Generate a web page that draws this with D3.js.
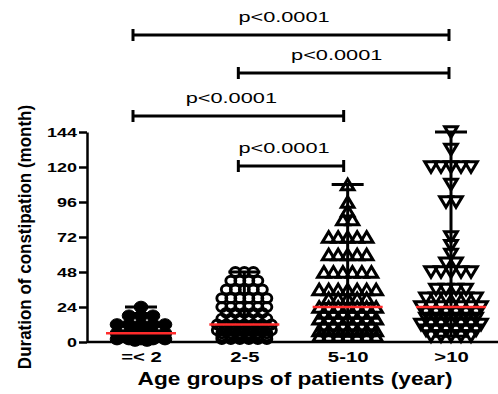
<!DOCTYPE html>
<html>
<head>
<meta charset="utf-8">
<script src="https://cdn.jsdelivr.net/npm/d3@7"></script>
<style>
  html, body { margin: 0; padding: 0; background: #fff; }
  svg { display: block; font-family: "Liberation Sans", Arial, sans-serif; }
</style>
</head>
<body>
<div id="chart"></div>
<script>
// Age groups of patients (year)
var groups = ["=< 2", "2-5", "5-10", ">10"];

// Duration of constipation (month) per patient
var under2 = [24, 18, 18, 18, 12, 12, 12, 12, 12, 9, 9,
  6, 6, 6, 6, 6, 4, 4, 4, 4, 2, 2, 2, 2, 2, 1, 1];
var from2to5 = [48, 48, 48, 42, 42, 42, 42, 36, 36, 36, 36, 36,
  30, 30, 30, 30, 30, 30, 24, 24, 24, 24, 24, 24, 20, 20, 20, 20, 20,
  16, 16, 16, 16, 16, 16, 12, 12, 12, 12, 12, 12, 12,
  10, 10, 10, 10, 10, 10, 8, 8, 8, 8, 8, 8, 8, 6, 6, 6, 6, 6, 6,
  4, 4, 4, 4, 4, 4, 2, 2, 2, 2, 2, 2];
var from5to10 = [108, 96, 90, 84, 84, 72, 72, 72, 72, 72, 60, 60, 60, 60, 60,
  48, 48, 48, 48, 48, 48, 36, 36, 36, 36, 36, 36, 36, 30, 30, 30, 30, 30,
  24, 24, 24, 24, 24, 24, 24, 20, 20, 20, 20, 20, 20, 16, 16, 16, 16, 16, 16, 16,
  12, 12, 12, 12, 12, 12, 8, 8, 8, 8, 8, 8, 8, 4, 4, 4, 4, 4, 4, 4];
var over10 = [144, 132, 120, 120, 120, 120, 120, 108, 96, 96, 72, 66, 60, 54, 54,
  48, 48, 48, 48, 48, 36, 36, 36, 36, 30, 30, 30, 30, 30, 30,
  24, 24, 24, 24, 24, 24, 24, 20, 20, 20, 20, 20, 20, 16, 16, 16, 16, 16, 16,
  12, 12, 12, 12, 12, 12, 12, 8, 8, 8, 8, 8, 8, 4, 4, 4, 4, 4];

var yTicks = [0, 24, 48, 72, 96, 120, 144];

// Multiple comparisons drawn above the columns
var compareFrom = ["=< 2", "2-5", "=< 2", "2-5"];
var compareTo = [">10", ">10", "5-10", "5-10"];
var compareLabels = ["p<0.0001", "p<0.0001", "p<0.0001", "p<0.0001"];

var width = 498, height = 394;
var axisX = 87;

var svg = d3.select("#chart").append("svg")
  .attr("width", width)
  .attr("height", height);

var xScale = d3.scalePoint().domain(groups).range([141, 451]);
var bracketX = d3.scalePoint().domain(groups).range([133, 449]);
var yScale = d3.scaleLinear().domain([0, 144]).range([342, 132]);

// marker look per column
var styles = [
  { shape: "dot", rx: 6.8, ry: 5.8, step: 12 },
  { shape: "ring", rx: 5, ry: 4.5, step: 9 },
  { shape: "up", w: 12.5, h: 10.5, step: 9.5 },
  { shape: "down", w: 12.5, h: 10.5, step: 10 }
];

function triPath(w, h, up) {
  var s = up ? 1 : -1;
  return "M0," + (-s * h / 2) + "L" + (w / 2) + "," + (s * h / 2) + "L" + (-w / 2) + "," + (s * h / 2) + "Z";
}

var columns = [under2, from2to5, from5to10, over10];

columns.forEach(function(values, gi) {
  var st = styles[gi];
  var cx = xScale(groups[gi]);
  // spread equal values sideways like a column scatter
  var pts = [];
  d3.groups(values, d => d).forEach(function(row) {
    var n = row[1].length;
    row[1].forEach(function(v, i) {
      pts.push({ v: v, dx: (i - (n - 1) / 2) * st.step });
    });
  });

  var g = svg.append("g").attr("class", "column");

  if (st.shape === "dot" || st.shape === "ring") {
    g.selectAll("ellipse").data(pts).enter().append("ellipse")
      .attr("cx", d => cx + d.dx)
      .attr("cy", d => yScale(d.v))
      .attr("rx", st.rx)
      .attr("ry", st.ry)
      .attr("fill", st.shape === "dot" ? "#000" : "none")
      .attr("stroke", "#000")
      .attr("stroke-width", st.shape === "dot" ? 1 : 2.9);
  } else {
    g.selectAll("path").data(pts).enter().append("path")
      .attr("transform", d => "translate(" + (cx + d.dx) + "," + yScale(d.v) + ")")
      .attr("d", triPath(st.w, st.h, st.shape === "up"))
      .attr("fill", "none")
      .attr("stroke", "#000")
      .attr("stroke-width", 3.1)
      .attr("stroke-linejoin", "miter");
  }

  // range bar (min to max) with caps
  var ext = d3.extent(values);
  g.append("line")
    .attr("x1", cx).attr("x2", cx)
    .attr("y1", yScale(ext[0])).attr("y2", yScale(ext[1]))
    .attr("stroke", "#000").attr("stroke-width", 3);
  ext.forEach(function(v) {
    g.append("line")
      .attr("x1", cx - 16).attr("x2", cx + 16)
      .attr("y1", yScale(v)).attr("y2", yScale(v))
      .attr("stroke", "#000").attr("stroke-width", 3);
  });

  // median
  g.append("line")
    .attr("x1", cx - 35).attr("x2", cx + 35)
    .attr("y1", yScale(d3.median(values))).attr("y2", yScale(d3.median(values)))
    .attr("stroke", "#ff2b2b").attr("stroke-width", 2.5);
});

// y axis
var yAxis = d3.axisLeft(yScale).tickValues(yTicks).tickSize(8).tickSizeOuter(0);
var gy = svg.append("g")
  .attr("transform", "translate(" + axisX + ",0)")
  .attr("font-size", null).attr("font-family", null)
  .call(yAxis);
gy.select(".domain").attr("stroke-width", 2.5);
gy.selectAll(".tick line").attr("stroke-width", 2.5);
gy.selectAll(".tick text")
  .attr("x", 0)
  .attr("transform", "translate(-10,0) scale(1.33,1)")
  .style("font-size", "13.5px")
  .style("font-weight", "bold");

// x axis line across the plot
svg.append("line")
  .attr("x1", axisX).attr("x2", width)
  .attr("y1", yScale(0)).attr("y2", yScale(0))
  .attr("stroke", "#000").attr("stroke-width", 2.5);

var xAxis = d3.axisBottom(xScale).tickSize(0);
var gx = svg.append("g")
  .attr("transform", "translate(0," + yScale(0) + ")")
  .attr("font-size", null).attr("font-family", null)
  .call(xAxis);
gx.select(".domain").remove();
gx.selectAll(".tick text")
  .attr("y", 0).attr("dy", 0)
  .attr("transform", "translate(0,20) scale(1.45,1)")
  .style("font-size", "14px")
  .style("font-weight", "bold");

// axis titles
svg.append("text")
  .attr("transform", "translate(295,385) scale(1.26,1)")
  .attr("text-anchor", "middle")
  .style("font-size", "18px")
  .style("font-weight", "bold")
  .text("Age groups of patients (year)");

svg.append("text")
  .attr("transform", "translate(31,237) rotate(-90) scale(1,1.1)")
  .attr("text-anchor", "middle")
  .style("font-size", "17px")
  .style("font-weight", "bold")
  .text("Duration of constipation (month)");

// significance brackets
var bracketLevels = [35, 73, 116, 166];
compareLabels.forEach(function(label, i) {
  var x1 = bracketX(compareFrom[i]), x2 = bracketX(compareTo[i]);
  var y = bracketLevels[i];
  var b = svg.append("g").attr("class", "bracket");
  b.append("line").attr("x1", x1).attr("x2", x2).attr("y1", y).attr("y2", y)
    .attr("stroke", "#000").attr("stroke-width", 3);
  [x1, x2].forEach(function(x) {
    b.append("line").attr("x1", x).attr("x2", x).attr("y1", y - 6).attr("y2", y + 6)
      .attr("stroke", "#000").attr("stroke-width", 3);
  });
  b.append("text")
    .attr("transform", "translate(" + ((x1 + x2) / 2 - 7) + "," + (y - 13) + ") scale(1.5,1)")
    .attr("text-anchor", "middle")
    .style("font-size", "14.5px")
    .text(label);
});
</script>
</body>
</html>
